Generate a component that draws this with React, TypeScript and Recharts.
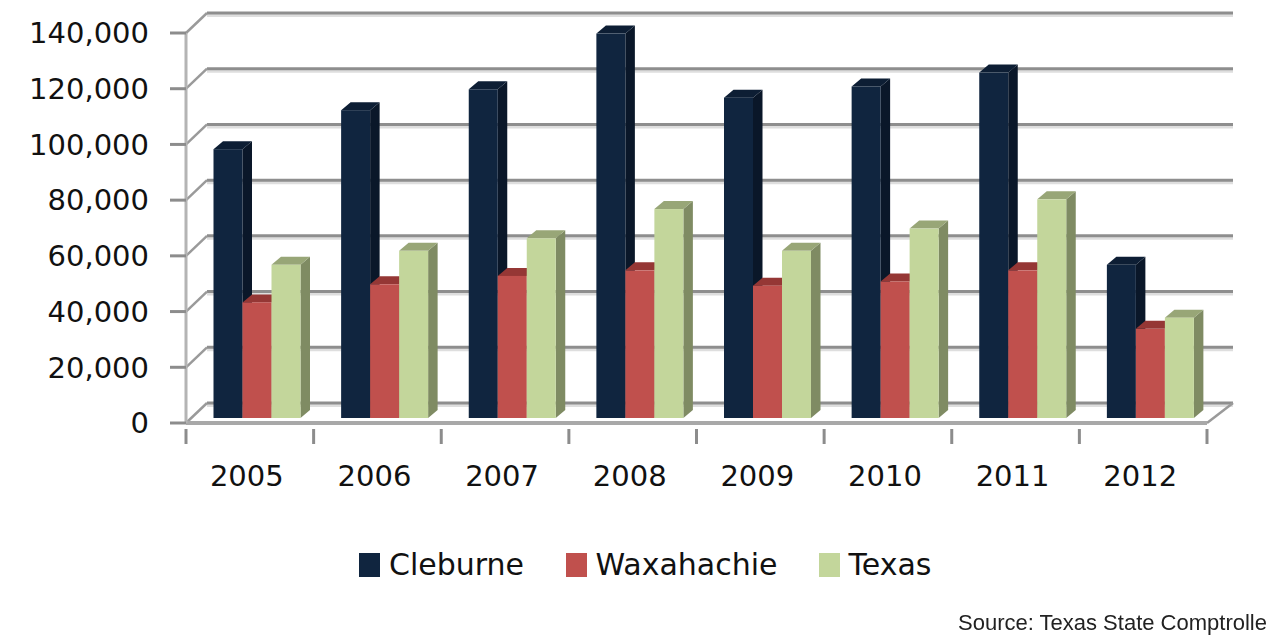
import React from 'react';
import { BarChart, Bar, XAxis, YAxis, CartesianGrid, Legend } from 'recharts';

const years = ['2005', '2006', '2007', '2008', '2009', '2010', '2011', '2012'];
const cleburne = [96500, 110500, 118000, 138000, 115000, 119000, 124000, 55000];
const waxahachie = [41500, 48000, 51000, 53000, 47500, 49000, 53000, 32000];
const texas = [55000, 60000, 64500, 75000, 60000, 68000, 78500, 36000];
const yTicks = [0, 20000, 40000, 60000, 80000, 100000, 120000, 140000];

const data = years.map((year, i) => ({
  year,
  Cleburne: cleburne[i],
  Waxahachie: waxahachie[i],
  Texas: texas[i],
}));

const W = 1267;
const H = 637;
const PLOT_LEFT = 186;
const PLOT_RIGHT = 1207;
const HALF_BAND = (PLOT_RIGHT - PLOT_LEFT) / years.length / 2;
const FONT = '"DejaVu Sans", sans-serif';

// fake 3D: back wall offset and bar depth
const WALL_DX = 21;
const WALL_DY = -20;
const WALL_RIGHT = 1233;
const BAR_DX = 7.5;
const BAR_DY = -5;
const DEPTH_X = 9.5;
const DEPTH_Y = -8;

const colors = {
  Cleburne: { front: '#10253F', top: '#0D1E34', side: '#0A1729' },
  Waxahachie: { front: '#C0504D', top: '#953735', side: '#8E3B39' },
  Texas: { front: '#C3D69B', top: '#98A677', side: '#7F8B63' },
};

const Bar3D = (name: keyof typeof colors) => (props: any) => {
  const { x, y, width, height } = props;
  const c = colors[name];
  const l = x + BAR_DX;
  const r = l + width;
  const t = y + BAR_DY;
  const b = t + height;
  return (
    <g>
      <polygon
        points={`${r},${t} ${r + DEPTH_X},${t + DEPTH_Y} ${r + DEPTH_X},${b + DEPTH_Y} ${r},${b}`}
        fill={c.side}
      />
      <polygon
        points={`${l},${t} ${l + DEPTH_X},${t + DEPTH_Y} ${r + DEPTH_X},${t + DEPTH_Y} ${r},${t}`}
        fill={c.top}
      />
      <rect x={l} y={t} width={width} height={height} fill={c.front} />
    </g>
  );
};

const GridLine = (props: any) => {
  const { y1, index } = props;
  const yBack = y1 + WALL_DY;
  const isFloor = Math.abs(y1 - 423) < 1;
  return (
    <g key={`grid-${index}`} fill="none">
      <line x1={PLOT_LEFT + WALL_DX} y1={yBack + 2} x2={WALL_RIGHT} y2={yBack + 2} stroke="#DEDEDE" strokeWidth={4} />
      <line x1={PLOT_LEFT + WALL_DX} y1={yBack} x2={WALL_RIGHT} y2={yBack} stroke="#8E8E8E" strokeWidth={3} />
      <line x1={PLOT_LEFT} y1={y1} x2={PLOT_LEFT + WALL_DX} y2={yBack} stroke="#9A9A9A" strokeWidth={2.5} />
      {isFloor && (
        <line x1={PLOT_RIGHT} y1={y1} x2={WALL_RIGHT} y2={yBack} stroke="#9A9A9A" strokeWidth={2.5} />
      )}
    </g>
  );
};

const YearTick = (props: any) => {
  const { x, y, payload, index } = props;
  const last = index === years.length - 1;
  return (
    <g>
      <line x1={x - HALF_BAND} y1={y - 2} x2={x - HALF_BAND} y2={y + 13} stroke="#8C8C8C" strokeWidth={3} />
      {last && (
        <line x1={x + HALF_BAND} y1={y - 2} x2={x + HALF_BAND} y2={y + 13} stroke="#8C8C8C" strokeWidth={3} />
      )}
      <text x={x - 3} y={y + 55} textAnchor="middle" fontFamily={FONT} fontSize={29} fill="#111">
        {payload.value}
      </text>
    </g>
  );
};

const legendGaps = [0, 41.5, 41];

const LegendRow = ({ payload }: any) => (
  <div style={{ display: 'flex', alignItems: 'center', fontFamily: FONT, fontSize: 30, color: '#111', whiteSpace: 'nowrap' }}>
    {(payload || []).map((item: any, i: number) => (
      <div key={item.value} style={{ display: 'flex', alignItems: 'center', marginLeft: legendGaps[i] }}>
        <span style={{ display: 'inline-block', width: 21, height: 24, background: item.color, marginRight: 9 }} />
        <span>{item.value}</span>
      </div>
    ))}
  </div>
);

export default function App() {
  return (
    <div style={{ position: 'absolute', left: 0, top: 0, width: W, height: H, overflow: 'hidden', background: '#fff' }}>
      <BarChart
        width={W}
        height={H}
        data={data}
        margin={{ top: 33, right: W - PLOT_RIGHT, bottom: H - 423 - 70, left: 0 }}
        barSize={29}
        barGap={0}
      >
        <CartesianGrid vertical={false} horizontal={GridLine} stroke="none" />
        <XAxis
          dataKey="year"
          height={70}
          axisLine={{ stroke: '#A8A8A8', strokeWidth: 4 }}
          tickLine={false}
          tick={YearTick}
          interval={0}
        />
        <YAxis
          width={PLOT_LEFT}
          domain={[0, 140000]}
          ticks={yTicks}
          interval={0}
          tickFormatter={(v: number) => v.toLocaleString('en-US')}
          axisLine={{ stroke: '#B4B4B4', strokeWidth: 3 }}
          tickLine={{ stroke: '#8C8C8C', strokeWidth: 3 }}
          tickSize={16}
          tickMargin={21}
          tick={{ fontFamily: FONT, fontSize: 29, fill: '#111' }}
        />
        <Legend
          layout="vertical"
          align="center"
          verticalAlign="middle"
          itemSorter={null}
          content={LegendRow}
          wrapperStyle={{ left: 359, top: 547, width: 700, height: 40 }}
        />
        <Bar dataKey="Cleburne" fill={colors.Cleburne.front} shape={Bar3D('Cleburne')} isAnimationActive={false} />
        <Bar dataKey="Waxahachie" fill={colors.Waxahachie.front} shape={Bar3D('Waxahachie')} isAnimationActive={false} />
        <Bar dataKey="Texas" fill={colors.Texas.front} shape={Bar3D('Texas')} isAnimationActive={false} />
      </BarChart>
      <div style={{ position: 'absolute', left: 958, top: 610, fontFamily: '"Liberation Sans", sans-serif', fontSize: 22, color: '#222', whiteSpace: 'nowrap', filter: 'blur(0.5px)' }}>
        Source: Texas State Comptroller
      </div>
    </div>
  );
}
